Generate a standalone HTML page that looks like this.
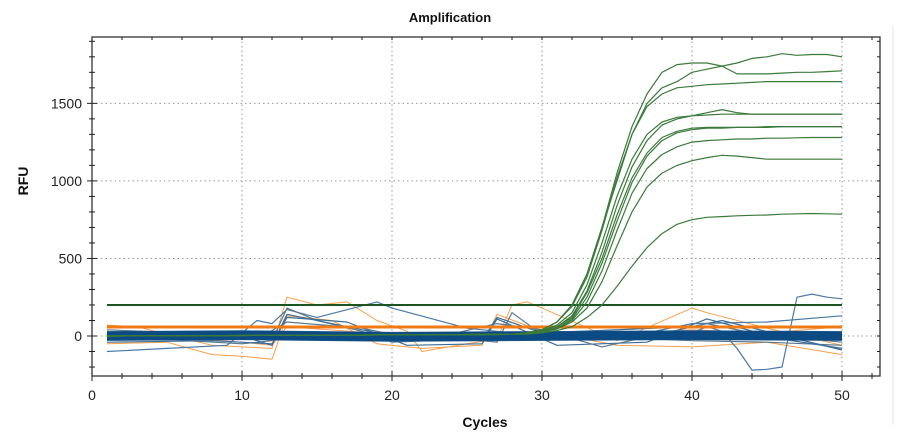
<!DOCTYPE html>
<html><head><meta charset="utf-8"><style>
html,body{margin:0;padding:0;background:#fff;width:904px;height:443px;overflow:hidden}
svg text{font-family:"Liberation Sans",Arial,sans-serif}
</style></head><body>
<svg id="chart" width="904" height="443" xmlns="http://www.w3.org/2000/svg">
<line x1="893" y1="25" x2="893" y2="425" stroke="#e6e6e6" stroke-width="1"/>
<text x="450" y="22" text-anchor="middle" font-size="13" font-weight="bold" fill="#111">Amplification</text>
<text transform="translate(28,181) rotate(-90)" text-anchor="middle" font-size="14" font-weight="bold" fill="#111">RFU</text>
<text x="485" y="427" text-anchor="middle" font-size="14" font-weight="bold" fill="#111">Cycles</text>
<g id="grid"></g><g id="series"></g><g id="axes"></g>
</svg>
<script>
const xTicks=[0,10,20,30,40,50];
const yTicks=[0,500,1000,1500];
const greenStart=28;
const greenA=[10,20,40,90,200,400,700,1050,1350,1560,1700,1750,1760,1760,1740,1760,1790,1800,1820,1810,1815,1815,1800];
const greenB=[10,20,40,90,190,380,680,1020,1300,1500,1600,1640,1700,1720,1740,1690,1690,1690,1695,1700,1700,1705,1710];
const greenC=[10,20,40,90,200,400,700,1000,1300,1480,1560,1600,1610,1620,1625,1630,1635,1640,1640,1640,1640,1640,1640];
const greenD=[10,20,35,70,150,330,600,900,1140,1300,1380,1410,1420,1440,1460,1440,1430,1430,1430,1430,1430,1430,1430];
const greenE=[10,15,30,60,130,290,540,840,1090,1260,1360,1400,1420,1425,1430,1430,1430,1430,1430,1430,1430,1430,1430];
const greenF=[10,15,30,60,120,280,500,780,1020,1180,1280,1320,1340,1345,1345,1345,1345,1350,1350,1350,1350,1350,1350];
const greenG=[10,15,25,50,110,250,470,740,990,1160,1260,1310,1330,1340,1340,1345,1345,1345,1350,1350,1350,1350,1350];
const greenH=[10,15,25,50,100,220,420,680,920,1080,1170,1220,1250,1260,1265,1270,1270,1275,1275,1278,1280,1280,1280];
const greenI=[10,15,25,45,90,180,350,580,800,960,1050,1100,1130,1150,1165,1160,1150,1140,1140,1140,1140,1140,1140];
const greenJ=[10,12,20,35,60,120,200,320,450,570,660,720,750,765,770,775,778,780,785,788,790,788,785];
const greens=[greenA,greenB,greenC,greenD,greenE,greenF,greenG,greenH,greenI,greenJ];
const thresholdGreen=200;
const thresholdOrange=58;
const blue1C=[1,10,20,30,38,40,41,42,43,44,45,46,47,48,49,50];
const blue1V=[-20,-10,0,10,5,20,60,30,-80,-220,-215,-200,250,270,250,240];
const blue2C=[1,5,9,11,12,13,15,19,20,25,30,35,40,45,50];
const blue2V=[-100,-80,-60,100,80,170,120,220,180,50,0,-20,80,90,130];
const blue3C=[1,10,12,13,15,18,20,25,27,28,30,40,45,50];
const blue3V=[0,-50,-30,180,100,30,-40,-20,-40,150,10,-30,-40,-60];
const blue4C=[1,10,12,13,20,26,27,30,40,42,50];
const blue4V=[20,0,-60,140,0,-30,120,20,60,100,-90];
const blue5C=[1,8,12,13,17,21,26,27,31,37,41,46,50];
const blue5V=[-40,-30,-50,120,90,-60,-50,110,-60,-40,110,-20,-80];
const blue6C=[1,6,11,13,18,22,27,30,34,41,44,50];
const blue6V=[40,20,-20,90,50,-30,80,40,-70,80,20,-40];
const orange1C=[1,3,5,8,10,12,13,15,17,19,21,22,25,27,28,29,30,35,40,41,45,50];
const orange1V=[70,60,10,-60,-70,-80,250,200,220,100,30,-100,-50,-20,200,220,180,-30,180,150,50,-60];
const orange2C=[1,5,8,10,12,13,16,19,22,26,27,30,35,40,45,50];
const orange2V=[-50,-40,-120,-130,-150,130,100,-50,-80,-60,140,30,-60,-70,-40,-120];
const orange3C=[1,10,12,13,20,30,40,45,50];
const orange3V=[30,-40,-60,60,10,-10,40,20,60];
const bandC=[1,10,20,30,40,50];
const bandV=[0,5,-5,0,5,0];

const X=c=>92+c*15;
const Y=v=>336-v*0.1551;
const NS='http://www.w3.org/2000/svg';
function mk(tag,attrs,parent){const e=document.createElementNS(NS,tag);for(const k in attrs)e.setAttribute(k,attrs[k]);parent.appendChild(e);return e;}
const grid=document.getElementById('grid'),ser=document.getElementById('series'),axes=document.getElementById('axes');
xTicks.forEach(t=>{if(t===0)return;const l=mk('line',{x1:X(t),x2:X(t),y1:37,y2:376,stroke:'#999','stroke-dasharray':'1.5,3'},grid);

});
yTicks.forEach(t=>{const l=mk('line',{x1:92,x2:880,y1:Y(t),y2:Y(t),stroke:'#999','stroke-dasharray':'1.5,3'},grid);

});
function path(cs,vs,color,w,name){let d='';cs.forEach((c,i)=>{d+=(i?'L':'M')+X(c).toFixed(1)+','+Y(vs[i]).toFixed(1);});
const p=mk('path',{d:d,fill:'none',stroke:color,'stroke-width':w,'stroke-linejoin':'round'},ser);

}
path(orange1C,orange1V,'#f5a04a',1,'orange-trace');
path(orange2C,orange2V,'#f5a04a',1,'orange-trace');
path(orange3C,orange3V,'#f0a060',1,'orange-trace');
path(blue1C,blue1V,'#4a7aa8',1.2,'blue-trace');
path(blue2C,blue2V,'#4a7aa8',1.2,'blue-trace');
path(blue3C,blue3V,'#5a7890',1.2,'blue-trace');
path(blue4C,blue4V,'#3d6e96',1.2,'blue-trace');
path(blue5C,blue5V,'#3d6e96',1.2,'blue-trace');
path(blue6C,blue6V,'#5a7890',1.2,'blue-trace');
path(bandC,bandV.map(v=>v+25),'#2a5f8f',2,'blue-band');
path(bandC,bandV.map(v=>v-25),'#2a5f8f',2,'blue-band');
path(bandC,bandV,'#0b4a82',9,'blue-band');
path([1,50],[thresholdOrange,thresholdOrange],'#f07a14',3,'orange-threshold');
path([1,50],[thresholdGreen,thresholdGreen],'#1b5420',2,'green-threshold');
greens.forEach(g=>{const cs=[1],vs=[0];g.forEach((v,i)=>{cs.push(greenStart+i);vs.push(v);});path(cs,vs,'#3a7a3a',1.2,'green-amplification-curve');});
mk('rect',{x:92,y:37,width:788,height:339,fill:'none',stroke:'#222','stroke-width':1.2},axes);
for(let c=0;c<=52;c+=2){const major=c%10===0;
mk('line',{x1:X(c),x2:X(c),y1:376-(major?5:3),y2:376+(major?5:3),stroke:'#222'},axes);
mk('line',{x1:X(c),x2:X(c),y1:37,y2:40,stroke:'#222'},axes);}
for(let v=-200;v<=1900;v+=100){const major=v%500===0;
mk('line',{x1:92-(major?5:3),x2:92+(major?5:3),y1:Y(v),y2:Y(v),stroke:'#222'},axes);
mk('line',{x1:877,x2:880,y1:Y(v),y2:Y(v),stroke:'#222'},axes);}
xTicks.forEach(t=>{const e=mk('text',{x:X(t),y:400,'text-anchor':'middle','font-size':14,fill:'#222'},axes);e.textContent=t;

});
yTicks.forEach(t=>{const e=mk('text',{x:82,y:Y(t)+5,'text-anchor':'end','font-size':14,fill:'#222'},axes);e.textContent=t;

});
</script>
</body></html>
